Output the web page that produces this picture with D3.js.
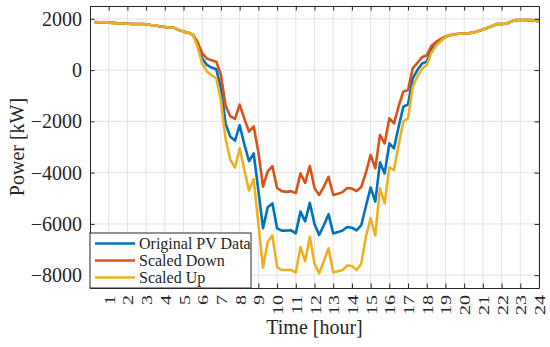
<!DOCTYPE html>
<html lang="en">
<head>
  <meta charset="UTF-8">
  <title>PV power</title>
  <script src="https://cdn.jsdelivr.net/npm/d3@7"></script>
  <style>
    body { margin: 0; background: #fff; }
    text { font-family: "Liberation Serif", "DejaVu Serif", serif; fill: #262626; }
  </style>
</head>
<body>
  <script>
    var w = 550, h = 347
    var margin = { top: 6, right: 11, bottom: 59, left: 90 }

    // hours, 15 min steps
    var hours = d3.range(1, 97).map(function (i) { return i / 4 })
    var xTicks = d3.range(1, 25)
    var yTicks = [-8000, -6000, -4000, -2000, 0, 2000]

    var original = [1870, 1865, 1860, 1850, 1840, 1830, 1815, 1810, 1800, 1795, 1800, 1790,
      1760, 1740, 1700, 1680, 1660, 1650, 1560, 1500, 1460, 1380, 1000, 450,
      200, 100, 30, -700, -2100, -2600, -2750, -2150, -2900, -3550, -3250, -4700,
      -6170, -5350, -5200, -6170, -6260, -6260, -6250, -6370, -5520, -5900, -5180, -6000,
      -6430, -6050, -5620, -6370, -6320, -6260, -6120, -6150, -6250, -6050, -5300, -4580,
      -5130, -3600, -4030, -2860, -3050, -2200, -1430, -1340, -320, 0, 260, 330,
      820, 1030, 1180, 1300, 1360, 1400, 1420, 1430, 1440, 1470, 1520, 1580,
      1650, 1720, 1800, 1800, 1810, 1890, 1950, 1955, 1955, 1950, 1940, 1890]

    var scaledDown = [1870, 1865, 1860, 1850, 1840, 1830, 1815, 1810, 1800, 1795, 1800, 1790,
      1760, 1740, 1700, 1680, 1660, 1650, 1560, 1500, 1460, 1380, 1100, 650,
      450, 380, 330, -200, -1400, -1800, -1900, -1350, -1900, -2400, -2200, -3200,
      -4550, -3950, -3750, -4600, -4720, -4750, -4720, -4800, -4030, -4400, -3740, -4600,
      -4870, -4550, -4160, -4870, -4820, -4760, -4600, -4620, -4720, -4560, -4000, -3310,
      -3830, -2530, -2860, -1880, -2080, -1400, -840, -780, 70, 280, 500, 580,
      950, 1100, 1220, 1310, 1360, 1400, 1420, 1430, 1440, 1470, 1520, 1580,
      1650, 1720, 1800, 1800, 1810, 1890, 1950, 1955, 1955, 1950, 1940, 1890]

    var scaledUp = [1870, 1865, 1860, 1850, 1840, 1830, 1815, 1810, 1800, 1795, 1800, 1790,
      1760, 1740, 1700, 1680, 1660, 1650, 1560, 1500, 1460, 1380, 900, 250,
      -50, -200, -330, -1200, -2700, -3500, -3800, -3050, -3900, -4700, -4250, -6000,
      -7700, -6700, -6450, -7680, -7800, -7800, -7790, -7900, -6900, -7450, -6500, -7550,
      -7930, -7450, -6950, -7890, -7850, -7800, -7620, -7640, -7800, -7550, -6500, -5780,
      -6450, -4610, -5200, -3800, -3900, -2900, -2010, -1880, -650, -250, 50, 200,
      680, 950, 1130, 1280, 1360, 1400, 1420, 1430, 1440, 1470, 1520, 1580,
      1650, 1720, 1800, 1800, 1810, 1890, 1950, 1955, 1955, 1950, 1940, 1890]

    var seriesNames = ['Original PV Data', 'Scaled Down', 'Scaled Up']
    var colors = ['#0072BD', '#D95319', '#EDB120']

    var series = [original, scaledDown, scaledUp].map(function (vals, i) {
      return { name: seriesNames[i], color: colors[i], values: vals }
    })

    var iw = w - margin.left - margin.right
    var ih = h - margin.top - margin.bottom

    var xScale = d3.scaleLinear().domain([0, 24]).range([margin.left, margin.left + iw])
    var yScale = d3.scaleLinear().domain([-8500, 2500]).range([margin.top + ih, margin.top])

    var svg = d3.select('body').append('svg').attr('width', w).attr('height', h)

    // grid
    svg.append('g').selectAll('line').data(xTicks).enter().append('line')
      .attr('x1', function (d) { return xScale(d) }).attr('x2', function (d) { return xScale(d) })
      .attr('y1', margin.top).attr('y2', margin.top + ih)
      .attr('stroke', '#e3e3e3').attr('stroke-width', 1)
    svg.append('g').selectAll('line').data(yTicks).enter().append('line')
      .attr('x1', margin.left).attr('x2', margin.left + iw)
      .attr('y1', function (d) { return yScale(d) }).attr('y2', function (d) { return yScale(d) })
      .attr('stroke', '#e3e3e3').attr('stroke-width', 1)

    // lines
    var line = d3.line()
      .x(function (d, i) { return xScale(hours[i]) })
      .y(function (d) { return yScale(d) })
    svg.append('g').selectAll('path').data(series).enter().append('path')
      .attr('d', function (d) { return line(d.values) })
      .attr('fill', 'none')
      .attr('stroke', function (d) { return d.color })
      .attr('stroke-width', 2.6)
      .attr('stroke-linejoin', 'round')

    // axes (inside ticks, box)
    var bottomAxis = d3.axisBottom(xScale).tickValues(xTicks).tickSizeInner(-4.5).tickSizeOuter(0).tickFormat('')
    var topAxis = d3.axisTop(xScale).tickValues(xTicks).tickSizeInner(-4.5).tickSizeOuter(0).tickFormat('')
    var leftAxis = d3.axisLeft(yScale).tickValues(yTicks).tickSizeInner(-4.5).tickSizeOuter(0)
      .tickPadding(12).tickFormat(d3.format('d'))
    var rightAxis = d3.axisRight(yScale).tickValues(yTicks).tickSizeInner(-4.5).tickSizeOuter(0).tickFormat('')

    svg.append('g').attr('transform', 'translate(0,' + (margin.top + ih) + ')').call(bottomAxis)
    svg.append('g').attr('transform', 'translate(0,' + margin.top + ')').call(topAxis)
    var gl = svg.append('g').attr('transform', 'translate(' + margin.left + ',0)').call(leftAxis)
    svg.append('g').attr('transform', 'translate(' + (margin.left + iw) + ',0)').call(rightAxis)

    svg.selectAll('.domain').attr('stroke', '#262626').attr('stroke-width', 1)
    svg.selectAll('.tick line').attr('stroke', '#262626')

    gl.attr('font-family', null).attr('font-size', null)
    gl.selectAll('text').attr('font-size', '20px')
      .style('font-family', '"Liberation Serif", serif').attr('fill', '#262626')
      .attr('dx', 4)

    // rotated hour labels
    svg.append('g').selectAll('text').data(xTicks).enter().append('text')
      .attr('transform', function (d) {
        return 'translate(' + (xScale(d) + 6) + ',' + (margin.top + ih + 7) + ') scale(0.72,1) rotate(-90)'
      })
      .attr('text-anchor', 'end')
      .attr('font-size', '20px')
      .text(function (d) { return d })

    // axis titles
    svg.append('text').attr('x', margin.left + iw / 2).attr('y', 334)
      .attr('text-anchor', 'middle').attr('font-size', '20px').text('Time [hour]')
    svg.append('text')
      .attr('transform', 'translate(24,' + (margin.top + ih / 2) + ') rotate(-90)')
      .attr('text-anchor', 'middle').attr('font-size', '20px').text('Power [kW]')

    // legend
    var lg = svg.append('g').attr('transform', 'translate(' + margin.left + ',' + 233 + ')')
    lg.append('rect').attr('width', 161).attr('height', margin.top + ih - 233)
      .attr('fill', '#fff').attr('stroke', '#262626').attr('stroke-width', 1)
    var items = lg.selectAll('g.item').data(series).enter().append('g')
      .attr('transform', function (d, i) { return 'translate(0,' + (10.5 + i * 17) + ')' })
    items.append('line').attr('x1', 5).attr('x2', 45).attr('y1', 0).attr('y2', 0)
      .attr('stroke', function (d) { return d.color }).attr('stroke-width', 2.6)
    items.append('text').attr('x', 49).attr('y', 5).attr('font-size', '16px')
      .text(function (d) { return d.name })
  </script>
</body>
</html>
